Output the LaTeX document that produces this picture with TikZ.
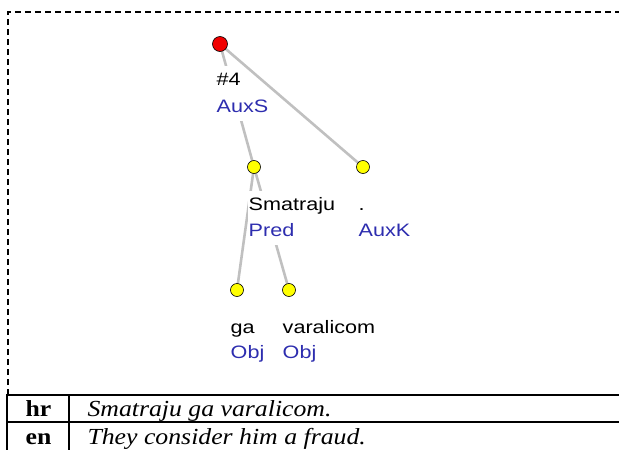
\documentclass[tikz,border=0pt]{standalone}
\usepackage{fontspec}
\setmainfont{Liberation Serif}[FakeStretch=1.12]
\newfontfamily\tredfont{Liberation Sans}[FakeStretch=1.2]
\usetikzlibrary{backgrounds}

\definecolor{afuncol}{RGB}{45,45,175}
\definecolor{edgecol}{RGB}{192,192,192}
\definecolor{rootcol}{RGB}{240,0,0}
\definecolor{tokcol}{RGB}{255,255,0}

\tikzset{
  tnode/.style={circle,draw=black,line width=0.6pt,inner sep=0pt,minimum size=13pt,fill=tokcol},
  form/.style={anchor=base west,fill=white,inner xsep=0.5pt,inner ysep=2pt,
    text height=17pt,text depth=7pt,font=\tredfont\fontsize{18pt}{20pt}\selectfont},
  afun/.style={form,text=afuncol},
  dep/.style={draw=edgecol,line width=2.6pt},
  cell/.style={anchor=base,font=\fontsize{23pt}{26pt}\selectfont}
}

\begin{document}
\begin{tikzpicture}[x=1pt,y=-1pt]
    \useasboundingbox (0,0) rectangle (619,450);
    % frame round the tree
    \draw[line width=1.6pt,dash pattern=on 6pt off 4pt] (8,395) -- (8,12) -- (630,12);

    % tree nodes
    \node[tnode,fill=rootcol,minimum size=15pt] (root) at (220,44) {};
    \node[tnode] (pred) at (254,167) {};
    \node[tnode] (auxk) at (363,167) {};
    \node[tnode] (ga) at (237,290) {};
    \node[tnode] (varalicom) at (289,290) {};

    % labels under the nodes
    \node[form] (root-f) at ([shift={(-4,41)}]root.center) {\#4};
    \node[afun] (root-a) at ([shift={(-4,68)}]root.center) {AuxS};
    \node[form] (pred-f) at ([shift={(-6,43)}]pred.center) {Smatraju};
    \node[afun] (pred-a) at ([shift={(-6,69)}]pred.center) {Pred};
    \node[form] (auxk-f) at ([shift={(-5,43)}]auxk.center) {.};
    \node[afun] (auxk-a) at ([shift={(-5,69)}]auxk.center) {AuxK};
    \node[form] (ga-f) at ([shift={(-7,43)}]ga.center) {ga};
    \node[afun] (ga-a) at ([shift={(-7,68)}]ga.center) {Obj};
    \node[form] (varalicom-f) at ([shift={(-7,43)}]varalicom.center) {varalicom};
    \node[afun] (varalicom-a) at ([shift={(-7,68)}]varalicom.center) {Obj};

    % dependencies, behind the labels
    \begin{pgfonlayer}{background}
        \draw[dep] (root.center) -- (pred.center);
        \draw[dep] (root.center) -- (auxk.center);
        \draw[dep] (pred.center) -- (ga.center);
        \draw[dep] (pred.center) -- (varalicom.center);
    \end{pgfonlayer}

    % sentence table
    \draw[line width=1.6pt] (7,460) -- (7,395) -- (630,395);
    \draw[line width=1.6pt] (7,422) -- (630,422);
    \draw[line width=1.4pt] (69,395) -- (69,460);
    \node[cell,font=\fontsize{23pt}{26pt}\selectfont\bfseries] (hr) at (38.5,416) {hr};
    \node[cell,font=\fontsize{23pt}{26pt}\selectfont\bfseries] (en) at (38.5,444) {en};
    \node[cell,anchor=base west,font=\fontsize{23pt}{26pt}\selectfont\itshape] (hr-s) at (84,416) {Smatraju ga varalicom.};
    \node[cell,anchor=base west,font=\fontsize{23pt}{26pt}\selectfont\itshape] (en-s) at (84,444) {They consider him a fraud.};
\end{tikzpicture}
\end{document}
